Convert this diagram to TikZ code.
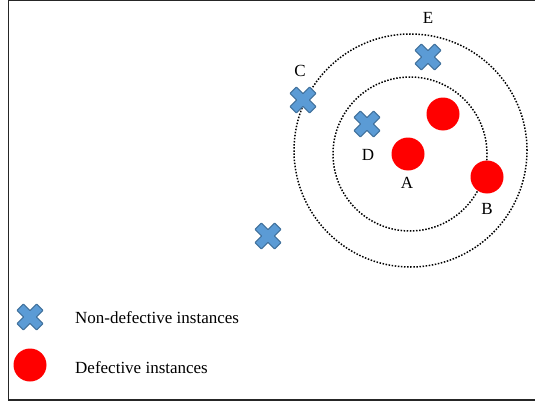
\documentclass[tikz,border=0pt]{standalone}
\usepackage{fontspec}
\setmainfont{Liberation Serif}
\usepackage{tikz}
\usetikzlibrary{positioning}
\definecolor{okfill}{HTML}{5B9BD5}
\definecolor{okline}{HTML}{41719C}
\definecolor{defred}{HTML}{FF0000}
\tikzset{
  frame/.style={line width=1.8pt, draw=black!85},
  ring/.style={draw=black, line width=1.5pt, dash pattern=on 1.5pt off 1.6pt},
  nondef/.style={minimum size=32pt, inner sep=0pt, path picture={
      \draw[fill=okfill, draw=okline, line width=1.1pt, rounded corners=0.6pt,
            shift={(path picture bounding box.center)}]
        (-13.01,6.65) -- (-6.65,13.01) -- (0,6.36) -- (6.65,13.01) -- (13.01,6.65) -- (6.36,0)
        -- (13.01,-6.65) -- (6.65,-13.01) -- (0,-6.36) -- (-6.65,-13.01) -- (-13.01,-6.65)
        -- (-6.36,0) -- cycle;}},
  defect/.style={circle, fill=defred, minimum size=33pt, inner sep=0pt},
  lbl/.style={font=\fontsize{17}{20}\selectfont, anchor=base, inner sep=0pt},
  legendtext/.style={lbl, anchor=base west},
}
\begin{document}
\begin{tikzpicture}[x=1pt, y=-1pt]
  \useasboundingbox (0,0) rectangle (535,404);
  \clip (0,0) rectangle (535,404);
  \draw[frame] (8.5,0.6) rectangle (545,400);
  % neighbourhoods round A
  \node[ring, circle, minimum size=233pt, inner sep=0pt] (outer) at (410.5,150.5) {};
  \node[ring, circle, minimum size=154pt, inner sep=0pt] (inner) at (410,154) {};
  % instances
  \node[nondef] (e) at (428,57) {};
  \node[nondef] (c) at (303,100) {};
  \node[nondef] (d) at (367,124) {};
  \node[nondef] (far) at (268,236) {};
  \node[defect] (a) at (408,154) {};
  \node[defect] (n) at (443,114) {};
  \node[defect] (b) at (487,177) {};
  \node[lbl] (le) at (428,24) {E};
  \node[lbl] (lc) at (300,76) {C};
  \node[lbl] (ld) at (368,160) {D};
  \node[lbl] (la) at (407,188) {A};
  \node[lbl] (lb) at (487,214) {B};
  % legend
  \node[nondef] (keyok) at (30,317) {};
  \node[defect] (keydef) at (30,365) {};
  \node[legendtext] (tok) at (75,323) {Non-defective instances};
  \node[legendtext] (tdef) at (75,373) {Defective instances};
\end{tikzpicture}
\end{document}
